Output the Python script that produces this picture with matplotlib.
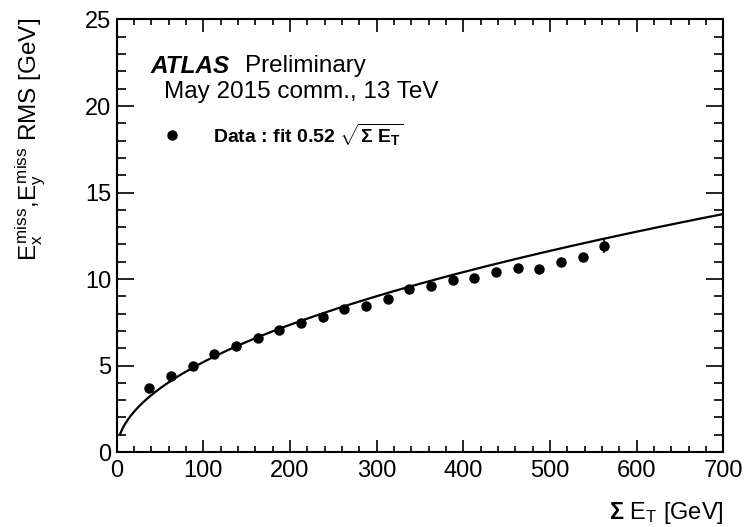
import numpy as np
import matplotlib.pyplot as plt
from matplotlib.ticker import MultipleLocator

plt.rcParams['font.family'] = ['Liberation Sans', 'DejaVu Sans']
plt.rcParams['mathtext.fontset'] = 'custom'
plt.rcParams['mathtext.rm'] = 'Liberation Sans'
plt.rcParams['mathtext.it'] = 'Liberation Sans'
plt.rcParams['mathtext.bf'] = 'Liberation Sans:bold'

# data points
sum_et = [37.5, 62.5, 87.5, 112.5, 137.5, 162.5, 187.5, 212.5, 237.5, 262.5, 287.5,
          312.5, 337.5, 362.5, 387.5, 412.5, 437.5, 462.5, 487.5, 512.5, 537.5, 562.5]
rms = [3.68, 4.41, 4.99, 5.65, 6.11, 6.59, 7.05, 7.44, 7.80, 8.25, 8.44,
       8.83, 9.40, 9.60, 9.94, 10.08, 10.42, 10.65, 10.58, 11.00, 11.25, 11.93]
rms_err = [0.05, 0.05, 0.05, 0.05, 0.05, 0.05, 0.05, 0.05, 0.05, 0.05, 0.08,
           0.08, 0.1, 0.1, 0.1, 0.12, 0.12, 0.15, 0.15, 0.2, 0.25, 0.4]

fit_coef = 0.52

fig = plt.figure(figsize=(7.45, 5.27), dpi=100)
ax = fig.add_axes([0.1566, 0.1423, 0.8145, 0.8207])

# fit curve 0.52*sqrt(sum E_T)
x_fit = np.linspace(4, 700, 400)
ax.plot(x_fit, fit_coef * np.sqrt(x_fit), color='black', lw=1.6)
ax.errorbar(sum_et, rms, yerr=rms_err, fmt='o', color='black', ms=6.5,
            elinewidth=1.2, capsize=0)

ax.set_xlim(0, 700)
ax.set_ylim(0, 25)
ax.xaxis.set_major_locator(MultipleLocator(100))
ax.xaxis.set_minor_locator(MultipleLocator(20))
ax.yaxis.set_major_locator(MultipleLocator(5))
ax.yaxis.set_minor_locator(MultipleLocator(1))
ax.tick_params(which='both', direction='in', top=True, right=True,
               labelsize=17, width=1.2)
ax.tick_params(axis='x', which='major', length=9, pad=6)
ax.tick_params(axis='x', which='minor', length=4.5)
ax.tick_params(axis='y', which='major', length=12.5, pad=4)
ax.tick_params(axis='y', which='minor', length=6.5)
for s in ax.spines.values():
    s.set_linewidth(1.5)

fig.text(0.042, 0.965, r'$E_{x}^{\rm miss}$,$E_{y}^{\rm miss}$ RMS [GeV]',
         fontsize=17.5, rotation=90, ha='center', va='top')
fig.text(0.971, 0.027, r'$\mathbf{\Sigma}$ E$_{\rm T}$ [GeV]', fontsize=17,
         ha='right', va='center')

ax.text(0.055, 0.892, 'ATLAS', transform=ax.transAxes, fontsize=17.5,
        fontweight='bold', fontstyle='italic', va='center')
ax.text(0.211, 0.892, 'Preliminary', transform=ax.transAxes, fontsize=17.5,
        va='center')
ax.text(0.078, 0.832, 'May 2015 comm., 13 TeV', transform=ax.transAxes,
        fontsize=17.5, va='center')
ax.plot([0.092], [0.733], 'o', color='black', ms=6.5, transform=ax.transAxes)
ax.text(0.158, 0.733, r'Data : fit 0.52 $\sqrt{\mathbf{\Sigma\ E_T}}$',
        transform=ax.transAxes, fontsize=14, fontweight='bold', va='center')

fig.savefig('out.png', dpi=100)
